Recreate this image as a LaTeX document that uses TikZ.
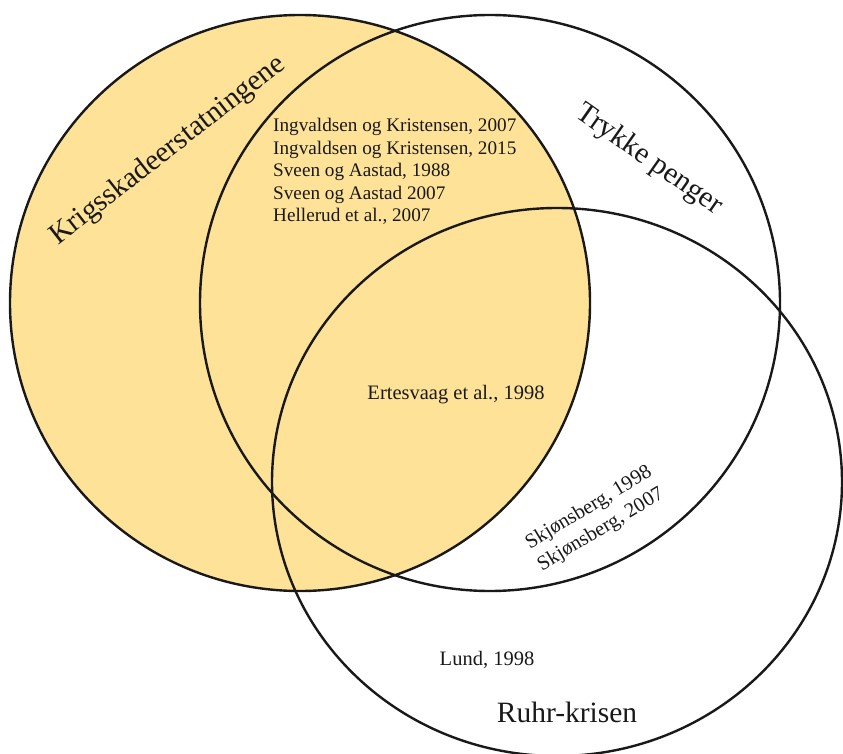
\documentclass[tikz,border=0pt]{standalone}
\usepackage{fontspec}
\setmainfont{Liberation Serif}
\definecolor{setfill}{RGB}{253,226,152}
\definecolor{ink}{RGB}{25,25,25}
\begin{document}
\begin{tikzpicture}[x=1pt,y=-1pt,
  setline/.style={draw=ink,line width=2.4pt},
  reftext/.style={inner sep=0pt,text=ink,font=\fontsize{19.2}{22.5}\selectfont},
  bigref/.style={inner sep=0pt,text=ink,font=\fontsize{20.5}{24}\selectfont},
  settitle/.style={inner sep=0pt,text=ink,font=\fontsize{29.5}{34}\selectfont}]
\useasboundingbox (0,0) rectangle (843,754);
% filled set on the left
\fill[setfill] (300,303) ellipse [x radius=290pt, y radius=288pt];
% set outlines
\draw[setline] (300,303) ellipse [x radius=290pt, y radius=288pt];
\draw[setline] (490,303) ellipse [x radius=290pt, y radius=288pt];
\draw[setline] (557,482) ellipse [x radius=285pt, y radius=274pt];
% set titles
\node[settitle,rotate=38] (krig) at (168,151) {Krigsskadeerstatningene};
\node[settitle,rotate=-35] (trykk) at (649,160) {Trykke penger};
\node[settitle] (ruhr) at (567,712) {Ruhr-krisen};
% references
\node[reftext,anchor=base west] (r1) at (273,132) {Ingvaldsen og Kristensen, 2007};
\node[reftext,anchor=base west] (r2) at (273,154.5) {Ingvaldsen og Kristensen, 2015};
\node[reftext,anchor=base west] (r3) at (273,177) {Sveen og Aastad, 1988};
\node[reftext,anchor=base west] (r4) at (273,199.5) {Sveen og Aastad 2007};
\node[reftext,anchor=base west] (r5) at (273,222) {Hellerud et al., 2007};
\node[bigref] (ert) at (456,395) {Ertesvaag et al., 1998};
\node[bigref,rotate=31] (sk1) at (589,508) {Skjønsberg, 1998};
\node[bigref,rotate=31] (sk2) at (601,530) {Skjønsberg, 2007};
\node[bigref] (lund) at (487,660) {Lund, 1998};
\end{tikzpicture}
\end{document}
